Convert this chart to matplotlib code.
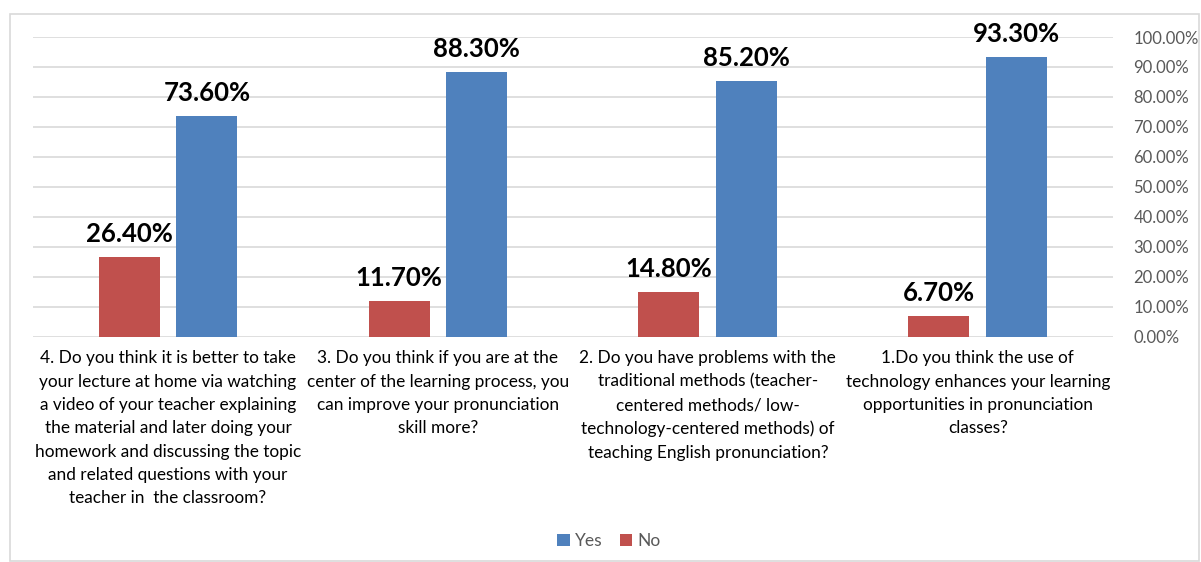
import matplotlib.pyplot as plt
import numpy as np
from matplotlib.patches import Rectangle

plt.rcParams['font.family'] = ['Lato', 'DejaVu Sans']

# Data
questions = [
    "4. Do you think it is better to take\nyour lecture at home via watching\na video of your teacher explaining\nthe material and later doing your\nhomework and discussing the topic\nand related questions with your\nteacher in  the classroom?",
    "3. Do you think if you are at the\ncenter of the learning process, you\ncan improve your pronunciation\nskill more?",
    "2. Do you have problems with the\ntraditional methods (teacher-\ncentered methods/ low-\ntechnology-centered methods) of\nteaching English pronunciation?",
    "1.Do you think the use of\ntechnology enhances your learning\nopportunities in pronunciation\nclasses?",
]
yes_vals = [73.6, 88.3, 85.2, 93.3]
no_vals = [26.4, 11.7, 14.8, 6.7]

blue = '#4f81bd'
red = '#c0504d'
gray_text = '#595959'

fig = plt.figure(figsize=(12.01, 5.62), dpi=100)
ax = fig.add_axes([0.0275, 1 - 336.5 / 562, 0.899, 299.5 / 562])

x = np.arange(len(questions))
w = 0.226
off = 0.144
b_no = ax.bar(x - off, no_vals, w, color=red, label='No', zorder=3)
b_yes = ax.bar(x + off, yes_vals, w, color=blue, label='Yes', zorder=3)

# value labels above each bar
for bars, vals in [(b_no, no_vals), (b_yes, yes_vals)]:
    for b, v in zip(bars, vals):
        ax.annotate(f"{v:.2f}%", (b.get_x() + b.get_width() / 2, v),
                    xytext=(0, 11), textcoords='offset points',
                    ha='center', va='baseline', fontsize=18.5, fontweight='bold',
                    color='black')

ax.set_xlim(-0.5, len(questions) - 0.5)
ax.set_ylim(0, 100)
ax.set_yticks(np.arange(0, 101, 10))
ax.set_yticklabels([f"{t:.2f}%" for t in range(0, 101, 10)])
ax.yaxis.tick_right()
ax.tick_params(axis='y', length=0, pad=15, labelsize=12, labelcolor=gray_text)
for lbl in ax.get_yticklabels():
    lbl.set_horizontalalignment('left')

ax.set_xticks(x)
ax.set_xticklabels(questions, fontsize=12.4, linespacing=1.56, color='black')
ax.tick_params(axis='x', length=0, pad=10)

ax.grid(axis='y', color='#d9d9d9', linewidth=1.2, zorder=0)
for s in ax.spines.values():
    s.set_visible(False)

handles, labels = ax.get_legend_handles_labels()
fig.legend(handles[::-1], labels[::-1], loc='center', bbox_to_anchor=(0.507, 0.037),
           ncol=2, frameon=False, fontsize=12.5, labelcolor=gray_text,
           handlelength=0.7, handleheight=0.7, handletextpad=0.3, columnspacing=1.0)

# light chart border
fig.patches.append(Rectangle((10 / 1201, 1 / 562), 1189 / 1201, 547 / 562,
                             transform=fig.transFigure, fill=False,
                             edgecolor='#d9d9d9', linewidth=1.2))

plt.savefig('out.png', dpi=100)
